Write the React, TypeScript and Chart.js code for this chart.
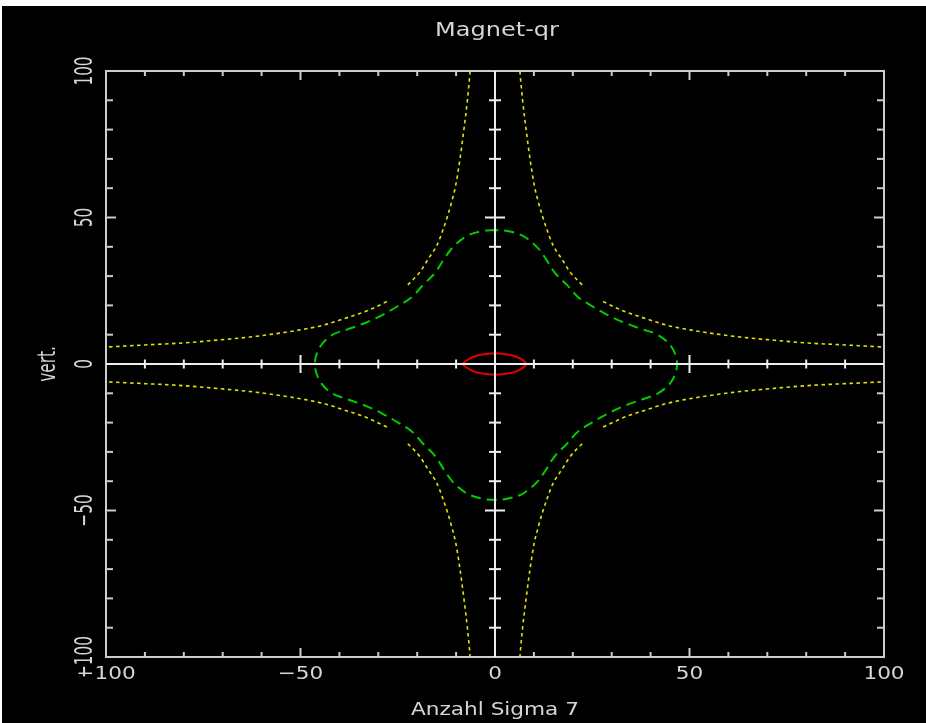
import React, { useEffect, useRef } from "react";
import { Chart, registerables } from "chart.js";
Chart.register(...registerables);

const W = 926;
const H = 723;

const chartTitle = "Magnet-qr";
const xAxisTitle = "Anzahl Sigma 7";
const yAxisTitle = "vert.";
const xTickValues = [-100, -50, 0, 50, 100];
const xTickLabels = ["−100", "−50", "0", "50", "100"];
const yTickValues = [100, 50, 0, -50, -100];
const yTickLabels = ["100", "50", "0", "−50", "−100"];
const minorTickValues = [-90, -80, -70, -60, -40, -30, -20, -10, 10, 20, 30, 40, 60, 70, 80, 90];
const majorTickValues = [-50, 50];

// yellow dotted curves, one per quadrant (NaN = gap in the trace)
const yellowUpperLeft: number[][] = [
  [-110, 5.3], [-100, 5.8], [-90, 6.5], [-80, 7.2], [-71, 8.2], [-63, 9.2], [-55, 10.6], [-49, 11.9],
  [-44, 13.3], [-39, 15.4], [-33, 18.1], [-27, 21.8], [NaN, NaN], [-22.4, 27.0], [-19.3, 31.4],
  [-17.2, 35.8], [-14.9, 40.6], [-13.4, 45.7], [-12.1, 50.9], [-11.1, 55.5], [-10.1, 61],
  [-9.0, 70], [-8.0, 80], [-7.1, 90], [-6.4, 100], [-5.9, 110],
];
const yellowUpperRight: number[][] = [
  [110, 5.3], [100, 5.8], [90, 6.5], [80, 7.2], [71, 8.2], [63, 9.2], [55, 10.6], [49, 11.9],
  [44, 13.3], [39, 15.4], [33, 18.1], [27, 21.8], [NaN, NaN], [22.4, 27.0], [19.3, 31.4],
  [17.2, 35.8], [14.9, 40.6], [13.4, 45.7], [12.1, 50.9], [11.1, 55.5], [10.1, 61],
  [9.0, 70], [8.0, 80], [7.1, 90], [6.4, 100], [5.9, 110],
];
const yellowLowerLeft: number[][] = [
  [-110, -5.6], [-100, -6.1], [-90, -6.7], [-80, -7.4], [-71, -8.4], [-63, -9.4], [-55, -10.8], [-49, -12.1],
  [-44, -13.5], [-39, -15.6], [-33, -18.3], [-27, -22.0], [NaN, NaN], [-22.4, -27.2], [-19.3, -31.6],
  [-17.2, -36.0], [-14.9, -40.8], [-13.4, -45.9], [-12.1, -51.1], [-11.1, -55.7], [-10.1, -61],
  [-9.0, -70], [-8.0, -80], [-7.1, -90], [-6.4, -100], [-5.9, -110],
];
const yellowLowerRight: number[][] = [
  [110, -5.6], [100, -6.1], [90, -6.7], [80, -7.4], [71, -8.4], [63, -9.4], [55, -10.8], [49, -12.1],
  [44, -13.5], [39, -15.6], [33, -18.3], [27, -22.0], [NaN, NaN], [22.4, -27.2], [19.3, -31.6],
  [17.2, -36.0], [14.9, -40.8], [13.4, -45.9], [12.1, -51.1], [11.1, -55.7], [10.1, -61],
  [9.0, -70], [8.0, -80], [7.1, -90], [6.4, -100], [5.9, -110],
];

// green dashed closed contour
const greenContour: number[][] = [
  [0, 45.7], [-3.1, 45.4], [-7.2, 43.7], [-10.8, 39.9], [-13.1, 35.8], [-15.4, 31.1], [-18.5, 27.0],
  [-21.3, 22.9], [-24.9, 19.8], [-29.0, 16.7], [-33.4, 14.0], [-37.8, 11.9], [-41.9, 9.9], [-45.0, 5.8],
  [-46.3, 0],
  [-45.0, -5.9], [-41.9, -10.0], [-37.8, -12.1], [-33.4, -14.2], [-29.0, -16.9], [-24.9, -20.0],
  [-21.3, -23.1], [-18.5, -27.2], [-15.4, -31.4], [-13.1, -36.1], [-10.8, -40.3], [-7.2, -44.2],
  [-3.1, -46.0], [0, -46.3],
  [3.1, -46.0], [7.2, -44.2], [10.8, -40.3], [13.1, -36.1], [15.4, -31.4], [18.5, -27.2], [21.3, -23.1],
  [24.9, -20.0], [29.0, -16.9], [33.4, -14.2], [37.8, -12.1], [41.9, -10.0], [45.4, -5.9], [46.8, 0],
  [45.4, 5.8], [41.9, 9.9], [37.8, 11.9], [33.4, 14.0], [29.0, 16.7], [24.9, 19.8], [21.3, 22.9],
  [18.5, 27.0], [15.4, 31.1], [13.1, 35.8], [10.8, 39.9], [7.2, 43.7], [3.1, 45.4], [0, 45.7],
];

// red solid ellipse
const redEllipse: number[][] = [
  [8.2, 0], [6.6, 1.8], [4.0, 3.1], [0, 3.7], [-4.0, 3.1], [-6.6, 1.8], [-8.2, 0],
  [-6.6, -1.8], [-4.0, -3.1], [0, -3.7], [4.0, -3.1], [6.6, -1.8], [8.2, 0],
];

const toPoints = (arr: number[][]) => arr.map(([x, y]) => ({ x, y }));

const TEXT_COLOR = "#d6d6d6";
const FRAME_COLOR = "#cccccc";
const AXIS_COLOR = "#eeeeee";

function drawText(
  ctx: CanvasRenderingContext2D,
  s: string,
  x: number,
  y: number,
  rot: number,
  sx: number,
  sy: number,
  size: number
) {
  ctx.save();
  ctx.translate(x, y);
  ctx.rotate(rot);
  ctx.scale(sx, sy);
  ctx.font = `${size}px "DejaVu Sans"`;
  ctx.fillStyle = TEXT_COLOR;
  ctx.textAlign = "center";
  ctx.textBaseline = "alphabetic";
  ctx.fillText(s, 0, 0);
  ctx.restore();
}

function line(ctx: CanvasRenderingContext2D, x1: number, y1: number, x2: number, y2: number) {
  ctx.beginPath();
  ctx.moveTo(x1, y1);
  ctx.lineTo(x2, y2);
  ctx.stroke();
}

const framePlugin = {
  id: "oldFrame",
  beforeDraw(chart: any) {
    const ctx: CanvasRenderingContext2D = chart.ctx;
    ctx.save();
    ctx.fillStyle = "#ffffff";
    ctx.fillRect(0, 0, W, H);
    ctx.fillStyle = "#000000";
    ctx.fillRect(2, 6, W - 2, H - 6);
    ctx.restore();
  },
  afterDatasetsDraw(chart: any) {
    const ctx: CanvasRenderingContext2D = chart.ctx;
    const a = chart.chartArea;
    const xs = chart.scales.x;
    const ys = chart.scales.y;
    const x0 = xs.getPixelForValue(0);
    const y0 = ys.getPixelForValue(0);
    ctx.save();
    ctx.lineCap = "butt";

    // frame
    ctx.strokeStyle = FRAME_COLOR;
    ctx.lineWidth = 2;
    ctx.strokeRect(a.left, a.top, a.right - a.left, a.bottom - a.top);

    // frame ticks (inward)
    const tickSets = [
      { vals: minorTickValues, lh: 5, lv: 7 },
      { vals: majorTickValues, lh: 9, lv: 10 },
    ];
    for (const t of tickSets) {
      for (const v of t.vals) {
        const px = xs.getPixelForValue(v);
        line(ctx, px, a.top, px, a.top + t.lh);
        line(ctx, px, a.bottom, px, a.bottom - t.lh);
        const py = ys.getPixelForValue(v);
        line(ctx, a.left, py, a.left + t.lv, py);
        line(ctx, a.right, py, a.right - t.lv, py);
      }
    }

    // central axes
    ctx.strokeStyle = AXIS_COLOR;
    ctx.lineWidth = 2;
    line(ctx, a.left, y0, a.right, y0);
    line(ctx, x0, a.top, x0, a.bottom);
    const axisTicks = [
      { vals: minorTickValues, hx: 4.5, hy: 6 },
      { vals: majorTickValues, hx: 9, hy: 10 },
    ];
    for (const t of axisTicks) {
      for (const v of t.vals) {
        const px = xs.getPixelForValue(v);
        line(ctx, px, y0 - t.hx, px, y0 + t.hx);
        const py = ys.getPixelForValue(v);
        line(ctx, x0 - t.hy, py, x0 + t.hy, py);
      }
    }

    // tick labels
    xTickValues.forEach((v, i) => {
      drawText(ctx, xTickLabels[i], xs.getPixelForValue(v), a.bottom + 22, 0, 1.2, 1, 18);
    });
    yTickValues.forEach((v, i) => {
      drawText(ctx, yTickLabels[i], a.left - 14, ys.getPixelForValue(v), -Math.PI / 2, 0.85, 1.37, 18);
    });

    // titles
    drawText(ctx, chartTitle, (a.left + a.right) / 2 + 2, 36, 0, 1.2, 1, 20);
    drawText(ctx, xAxisTitle, (a.left + a.right) / 2, 715, 0, 1.2, 1, 18);
    drawText(ctx, yAxisTitle, 55, (a.top + a.bottom) / 2, -Math.PI / 2, 0.85, 1.37, 18);

    ctx.restore();
  },
};

export default function App() {
  const ref = useRef<HTMLCanvasElement | null>(null);

  useEffect(() => {
    if (!ref.current) return;
    const yellowStyle = {
      borderColor: "rgb(228,228,0)",
      borderWidth: 1.6,
      borderDash: [3.5, 3.5],
      showLine: true,
      fill: false,
      pointRadius: 0,
      cubicInterpolationMode: "monotone",
      spanGaps: false,
    };
    const chart = new Chart(ref.current, {
      type: "scatter",
      data: {
        datasets: [
          { ...yellowStyle, label: "y1", data: toPoints(yellowUpperLeft) },
          { ...yellowStyle, label: "y2", data: toPoints(yellowUpperRight) },
          { ...yellowStyle, label: "y3", data: toPoints(yellowLowerLeft) },
          { ...yellowStyle, label: "y4", data: toPoints(yellowLowerRight) },
          {
            label: "green",
            data: toPoints(greenContour),
            borderColor: "rgb(0,205,0)",
            borderWidth: 2,
            borderDash: [10, 6],
            showLine: true,
            fill: false,
            pointRadius: 0,
            tension: 0.35,
          },
          {
            label: "red",
            data: toPoints(redEllipse),
            borderColor: "rgb(225,0,0)",
            borderWidth: 2,
            showLine: true,
            fill: false,
            pointRadius: 0,
            tension: 0.35,
          },
        ],
      } as any,
      options: {
        animation: false,
        responsive: false,
        devicePixelRatio: 1,
        layout: { padding: { left: 106, top: 71, right: 42, bottom: 66 } },
        scales: {
          x: { type: "linear", min: -100, max: 100, display: false },
          y: { type: "linear", min: -100, max: 100, display: false },
        },
        plugins: {
          legend: { display: false },
          tooltip: { enabled: false },
          title: { display: false },
        },
        elements: { point: { radius: 0 } },
      } as any,
      plugins: [framePlugin],
    });
    return () => chart.destroy();
  }, []);

  return (
    <div style={{ position: "fixed", left: 0, top: 0, width: W, height: H, background: "#fff" }}>
      <canvas ref={ref} width={W} height={H} style={{ display: "block", width: W, height: H }} />
    </div>
  );
}
